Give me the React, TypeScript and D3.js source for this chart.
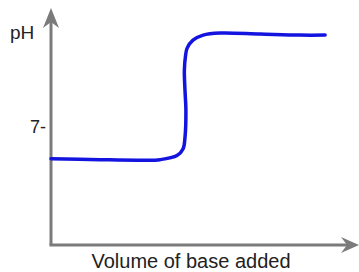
import React, { useEffect, useRef } from "react";
import * as d3 from "d3";

// volume of base added (arbitrary units, 0-100) and pH
const volume = [0, 15.9, 28.9, 35.4, 40.9, 42.9, 43.5, 43.8, 43.5, 43.3, 43.7, 44.2, 46.1, 49.4, 54.9, 67.9, 80.8, 89.0];
const pH = [5.1, 5.04, 5.01, 5.04, 5.28, 5.69, 6.35, 7.95, 9.14, 10.32, 11.21, 11.63, 12.1, 12.4, 12.52, 12.46, 12.4, 12.4];
const yTicks = [7];

const W = 359;
const H = 272;

const App = () => {
	const svgRef = useRef<SVGSVGElement>(null);

	useEffect(() => {
		const svg = d3.select(svgRef.current);
		svg.selectAll("*").remove();

		const x = d3.scaleLinear().domain([0, 100]).range([51, 359]);
		const y = d3.scaleLinear().domain([0, 14]).range([245, 8]);
		const axisColor = "#7b7b7b";
		const font = "'Liberation Sans', Arial, sans-serif";

		// axes with arrow heads
		svg
			.append("line")
			.attr("x1", x(0))
			.attr("y1", y(0))
			.attr("x2", x(0))
			.attr("y2", y(14) + 12)
			.attr("stroke", axisColor)
			.attr("stroke-width", 3);
		svg
			.append("line")
			.attr("x1", x(0) - 1.5)
			.attr("y1", y(0))
			.attr("x2", x(100) - 12)
			.attr("y2", y(0))
			.attr("stroke", axisColor)
			.attr("stroke-width", 3);

		const tx = x(0);
		const ty = y(14);
		svg
			.append("path")
			.attr("d", `M${tx},${ty} L${tx + 8},${ty + 20} L${tx},${ty + 14} L${tx - 8},${ty + 20} Z`)
			.attr("fill", axisColor);
		const hx = x(100);
		const hy = y(0);
		svg
			.append("path")
			.attr("d", `M${hx},${hy} L${hx - 18},${hy - 8} L${hx - 12},${hy} L${hx - 18},${hy + 8} Z`)
			.attr("fill", axisColor);

		// tick labels
		svg
			.selectAll(".tick")
			.data(yTicks)
			.enter()
			.append("text")
			.attr("x", x(0) - 5)
			.attr("y", (d) => y(d) + 6)
			.attr("text-anchor", "end")
			.style("font-family", font)
			.style("font-size", "18px")
			.attr("fill", "#222")
			.text((d) => d + "-");

		svg
			.append("text")
			.attr("x", 10)
			.attr("y", 39)
			.style("font-family", font)
			.style("font-size", "19px")
			.attr("fill", "#222")
			.text("pH");

		svg
			.append("text")
			.attr("x", 191)
			.attr("y", 268)
			.attr("text-anchor", "middle")
			.style("font-family", font)
			.style("font-size", "20px")
			.attr("fill", "#222")
			.text("Volume of base added");

		// titration curve
		const pts: [number, number][] = volume.map((v, i) => [v, pH[i]]);
		const line = d3
			.line<[number, number]>()
			.x((d) => x(d[0]))
			.y((d) => y(d[1]))
			.curve(d3.curveCatmullRom.alpha(0.5));

		svg
			.append("path")
			.datum(pts)
			.attr("d", line)
			.attr("fill", "none")
			.attr("stroke", "#1414e0")
			.attr("stroke-width", 3.5)
			.attr("stroke-linecap", "round");
	}, []);

	return (
		<svg
			ref={svgRef}
			width={W}
			height={H}
			style={{ position: "absolute", left: 0, top: 0, background: "#fff" }}
		></svg>
	);
};

export default App;
